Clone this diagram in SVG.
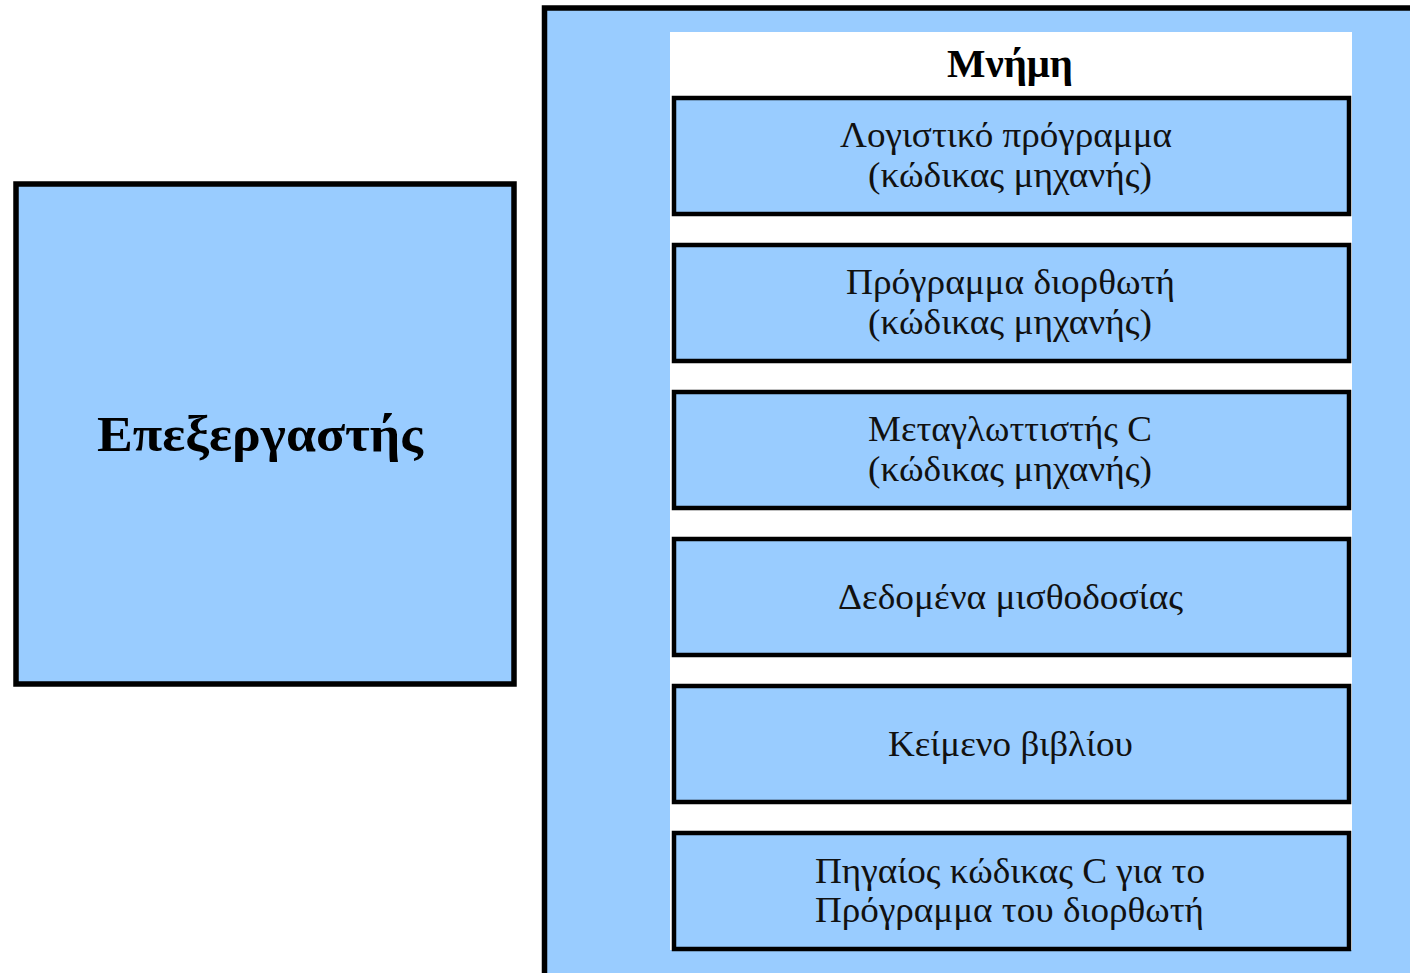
<svg xmlns="http://www.w3.org/2000/svg" width="1410" height="973" viewBox="0 0 1410 973">
  <style>
    .blk { fill: #99ccff; stroke: #000; }
    .cell { fill: #99ccff; stroke: #000; stroke-width: 4.5; }
    .lbl { font-family: "Liberation Serif", "DejaVu Serif", serif; font-size: 35px; fill: #111; text-anchor: middle; }
    .bold { font-family: "Liberation Serif", "DejaVu Serif", serif; font-weight: bold; fill: #000; text-anchor: middle; }
  </style>
  <rect width="1410" height="973" fill="#fff"/>

  <!-- processor -->
  <g id="processor">
    <rect class="blk" x="16" y="184" width="498" height="500" stroke-width="5.5"/>
    <text class="bold" x="260" y="451" font-size="51" textLength="326" lengthAdjust="spacingAndGlyphs">Επεξεργαστής</text>
  </g>

  <!-- memory block with its stacked contents -->
  <g id="memory">
    <rect class="blk" x="544.5" y="8" width="900" height="1000" stroke-width="5.5"/>
    <rect x="670" y="32" width="682" height="918" fill="#fff"/>
    <text class="bold" x="1010" y="77" font-size="40" textLength="126" lengthAdjust="spacingAndGlyphs">Μνήμη</text>
  </g>

  <g id="accounting-program">
    <rect class="cell" x="674" y="98" width="675" height="116"/>
    <text class="lbl" x="1006" y="147" textLength="332" lengthAdjust="spacingAndGlyphs">Λογιστικό πρόγραμμα</text>
    <text class="lbl" x="1010" y="187" textLength="284" lengthAdjust="spacingAndGlyphs">(κώδικας μηχανής)</text>
  </g>

  <g id="editor-program">
    <rect class="cell" x="674" y="245" width="675" height="116"/>
    <text class="lbl" x="1010.5" y="294" textLength="329" lengthAdjust="spacingAndGlyphs">Πρόγραμμα διορθωτή</text>
    <text class="lbl" x="1010" y="334" textLength="284" lengthAdjust="spacingAndGlyphs">(κώδικας μηχανής)</text>
  </g>

  <g id="c-compiler">
    <rect class="cell" x="674" y="392" width="675" height="116"/>
    <text class="lbl" x="1010" y="441" textLength="284" lengthAdjust="spacingAndGlyphs">Μεταγλωττιστής C</text>
    <text class="lbl" x="1010" y="481" textLength="284" lengthAdjust="spacingAndGlyphs">(κώδικας μηχανής)</text>
  </g>

  <g id="payroll-data">
    <rect class="cell" x="674" y="539" width="675" height="116"/>
    <text class="lbl" x="1010.5" y="609" textLength="345" lengthAdjust="spacingAndGlyphs">Δεδομένα μισθοδοσίας</text>
  </g>

  <g id="book-text">
    <rect class="cell" x="674" y="686" width="675" height="116"/>
    <text class="lbl" x="1010.5" y="756" textLength="245" lengthAdjust="spacingAndGlyphs">Κείμενο βιβλίου</text>
  </g>

  <g id="editor-source">
    <rect class="cell" x="674" y="833" width="675" height="116"/>
    <text class="lbl" x="1010" y="883" textLength="390" lengthAdjust="spacingAndGlyphs">Πηγαίος κώδικας C για το</text>
    <text class="lbl" x="1009.5" y="922" textLength="389" lengthAdjust="spacingAndGlyphs">Πρόγραμμα του διορθωτή</text>
  </g>

  <g id="connectors"/>
</svg>
